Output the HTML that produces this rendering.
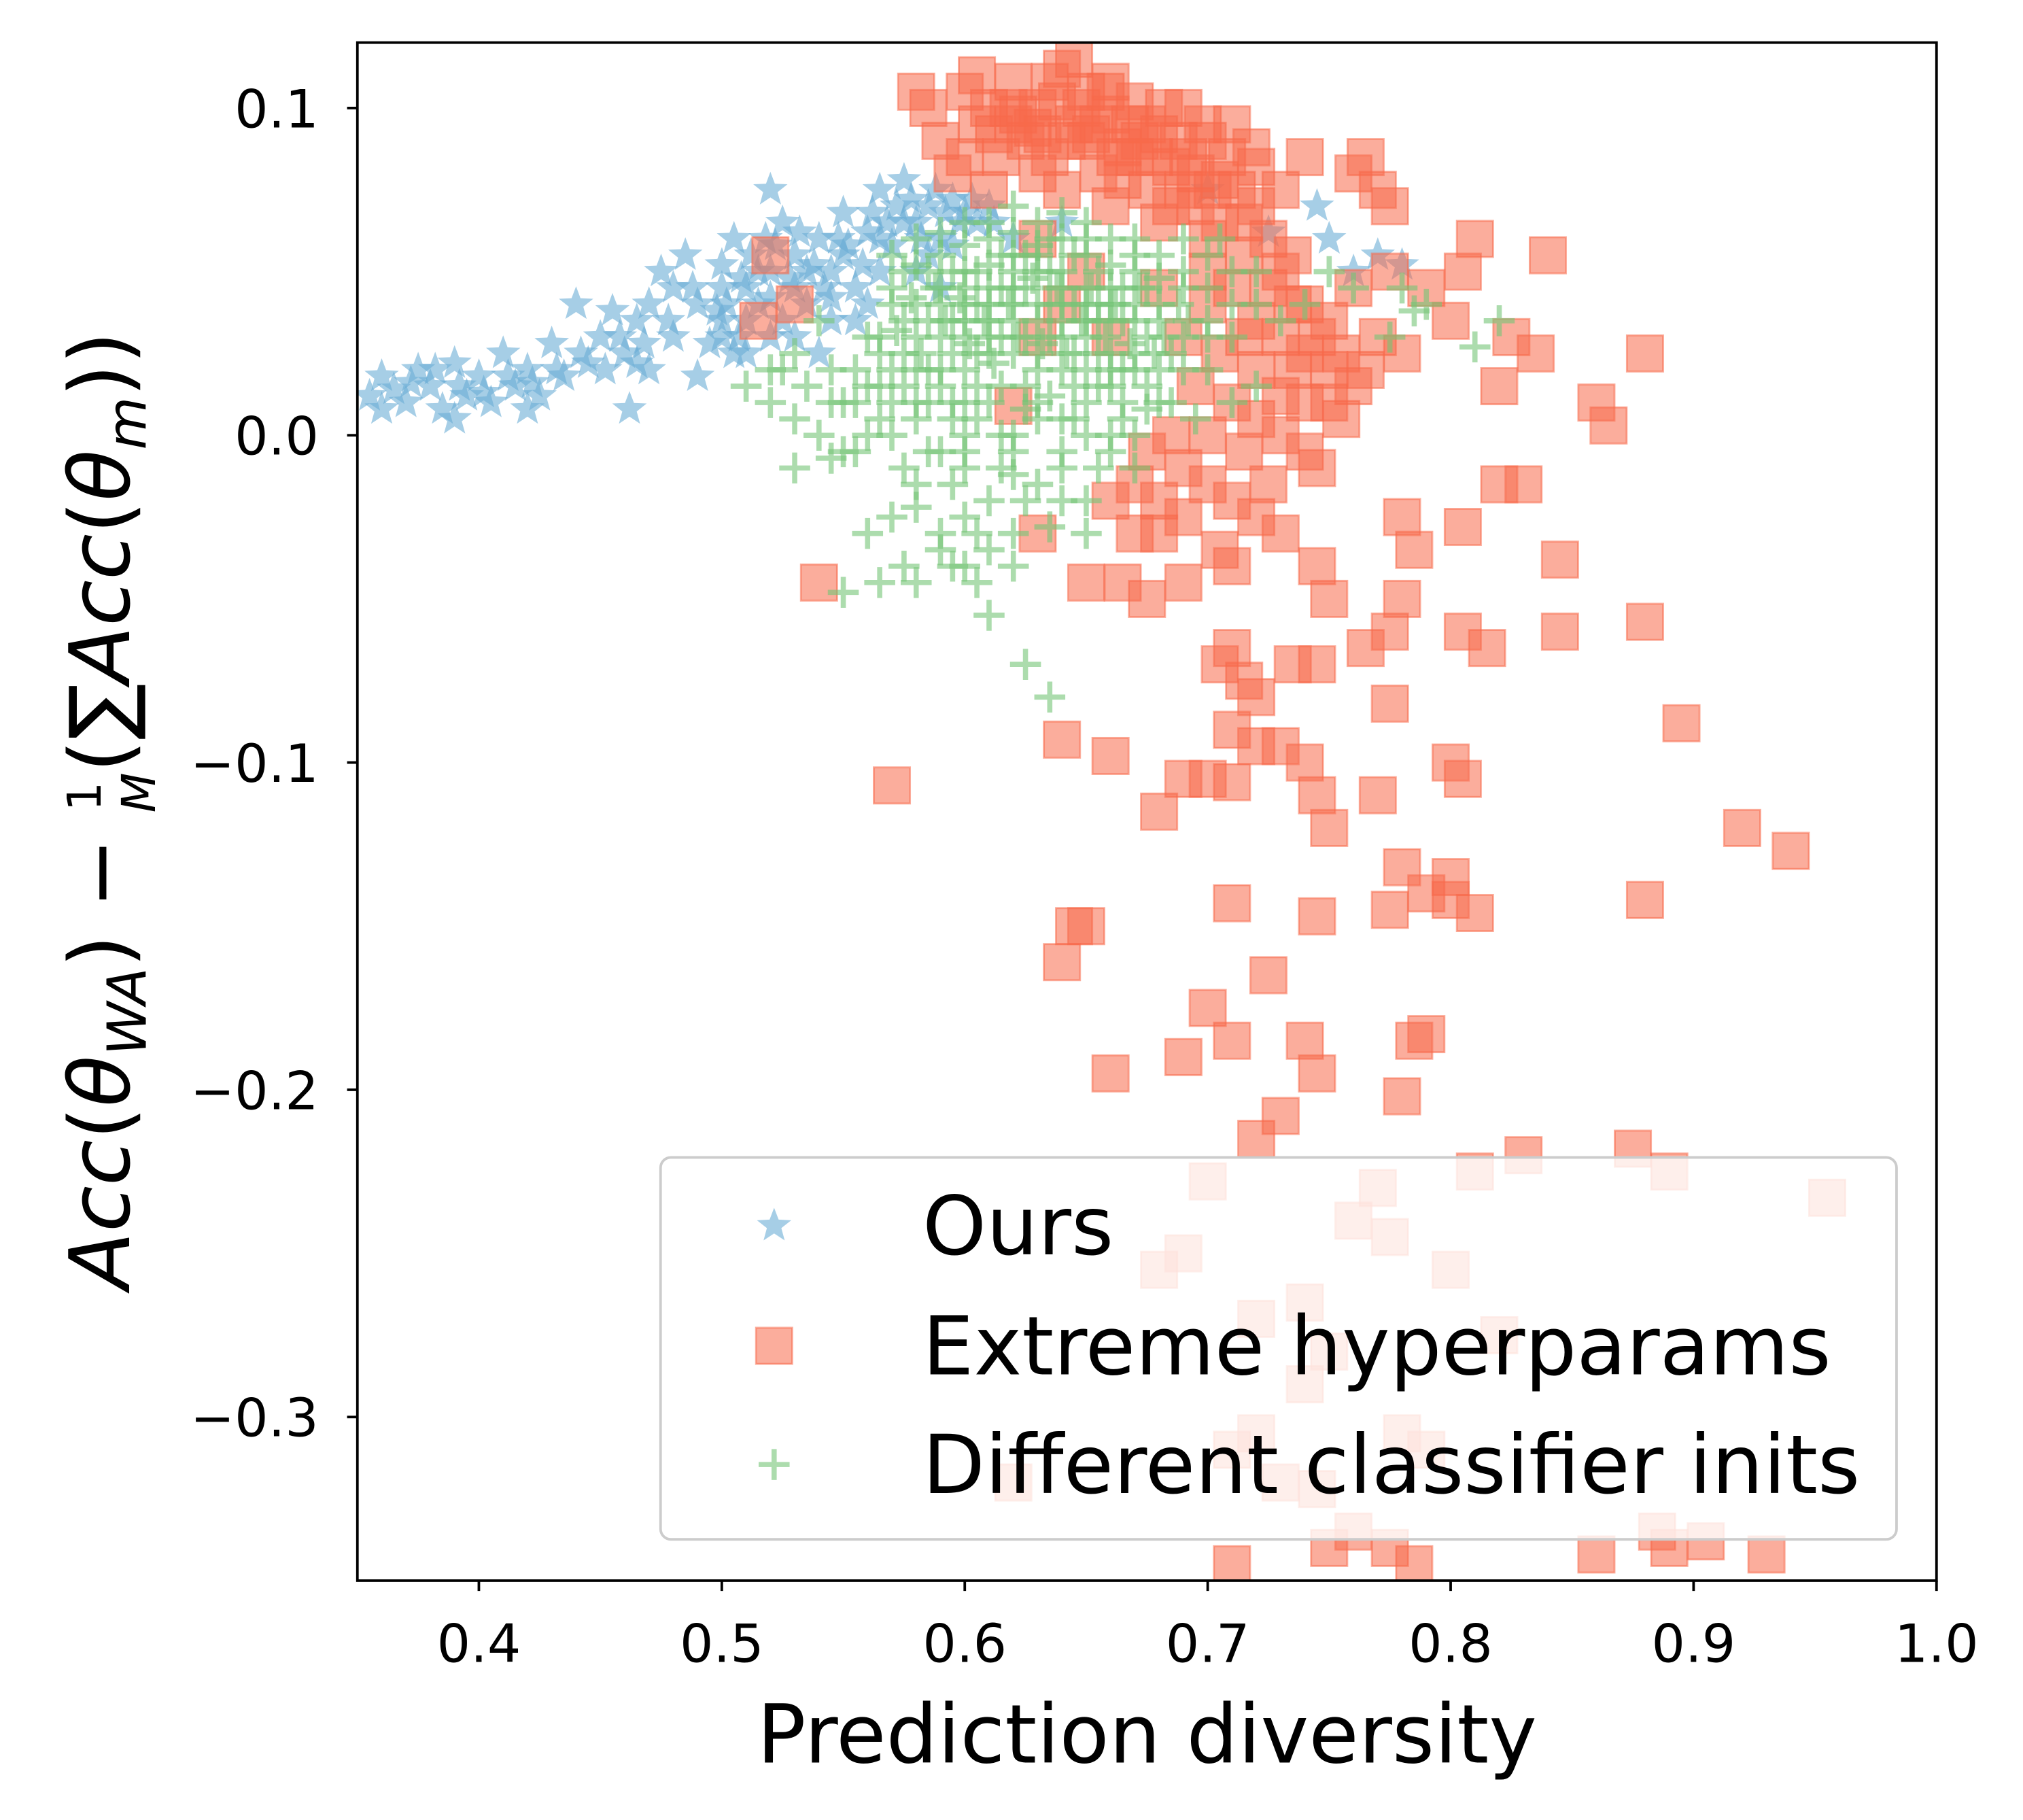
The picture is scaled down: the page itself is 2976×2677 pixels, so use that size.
<!DOCTYPE html>
<html><head><meta charset="utf-8"><style>
html,body{margin:0;padding:0;background:#fff;}
svg{display:block;font-family:"DejaVu Sans","Liberation Sans",sans-serif;}
</style></head><body>
<svg id="chart" width="2976" height="2677" viewBox="0 0 1568 1410.5" xmlns="http://www.w3.org/2000/svg" style="position:absolute;left:0;top:0">
<rect x="0" y="0" width="1568" height="1410.5" fill="#fff"/>
<g id="marks"></g>
<g id="legend"></g>
<g id="axes"></g>
<text transform="translate(100,628) rotate(-90)" text-anchor="middle" font-size="65" fill="#000"><tspan font-style="italic">Acc</tspan>(<tspan font-style="italic">θ</tspan><tspan font-style="italic" font-size="42" dy="13">WA</tspan><tspan dy="-13">) − </tspan><tspan font-size="36" dy="-22">1</tspan><tspan font-size="36" font-style="italic" dx="-24" dy="42">M</tspan><tspan dy="-20">(∑</tspan><tspan font-style="italic">Acc</tspan>(<tspan font-style="italic">θ</tspan><tspan font-style="italic" font-size="42" dy="13">m</tspan><tspan dy="-13">))</tspan></text>
</svg>
<script>
const xTicks = [0.4,0.5,0.6,0.7,0.8,0.9,1.0];
const xTickLabels = ["0.4","0.5","0.6","0.7","0.8","0.9","1.0"];
const yTicks = [0.1,0.0,-0.1,-0.2,-0.3];
const yTickLabels = ["0.1","0.0","\u22120.1","\u22120.2","\u22120.3"];
const seriesNames = ["Ours","Extreme hyperparams","Different classifier inits"];
const oursPts = [[0.355,0.012],[0.36,0.018],[0.37,0.01],[0.375,0.02],[0.38,0.015],[0.385,0.008],[0.39,0.022],[0.395,0.012],[0.40,0.018],[0.405,0.01],[0.41,0.025],[0.415,0.015],[0.42,0.02],[0.425,0.012],[0.43,0.028],[0.435,0.018],[0.44,0.04],[0.445,0.022],[0.45,0.03],[0.455,0.038],[0.46,0.025],[0.462,0.008],[0.465,0.035],[0.47,0.02],[0.475,0.05],[0.48,0.03],[0.485,0.055],[0.49,0.04],[0.495,0.028],[0.50,0.045],[0.505,0.06],[0.51,0.035],[0.515,0.05],[0.52,0.042],[0.525,0.065],[0.53,0.055],[0.535,0.04],[0.54,0.06],[0.545,0.05],[0.55,0.068],[0.555,0.045],[0.56,0.062],[0.565,0.075],[0.57,0.058],[0.575,0.078],[0.58,0.065],[0.585,0.07],[0.59,0.06],[0.595,0.072],[0.60,0.068],[0.605,0.065],[0.61,0.07],[0.52,0.075],[0.50,0.052],[0.53,0.03],[0.545,0.035],[0.565,0.05],[0.59,0.045],[0.62,0.06],[0.64,0.065],[0.70,0.075],[0.745,0.07],[0.75,0.06],[0.76,0.05],[0.77,0.055],[0.78,0.052],[0.725,0.062],[0.49,0.018],[0.51,0.025],[0.54,0.025],[0.36,0.008],[0.39,0.005],[0.42,0.008],[0.5,0.03],[0.52,0.05],[0.56,0.04],[0.58,0.05],[0.55,0.055],[0.365,0.014],[0.372,0.016],[0.382,0.02],[0.392,0.015],[0.402,0.013],[0.412,0.018],[0.422,0.016],[0.432,0.02],[0.442,0.025],[0.452,0.02],[0.458,0.03],[0.468,0.028],[0.478,0.035],[0.488,0.045],[0.498,0.038],[0.502,0.04],[0.508,0.048],[0.512,0.055],[0.518,0.06],[0.522,0.058],[0.528,0.048],[0.532,0.062],[0.538,0.052],[0.542,0.045],[0.548,0.06],[0.552,0.058],[0.558,0.052],[0.562,0.068],[0.568,0.065],[0.572,0.07],[0.578,0.072],[0.582,0.06],[0.588,0.075],[0.592,0.068],[0.598,0.065],[0.603,0.072],[0.612,0.065],[0.507,0.03],[0.515,0.04],[0.525,0.035],[0.535,0.05],[0.545,0.042],[0.555,0.035],[0.565,0.06],[0.575,0.065],[0.585,0.055],[0.595,0.058],[0.51,0.045],[0.5,0.035],[0.505,0.025],[0.52,0.03],[0.53,0.045],[0.47,0.04],[0.48,0.045],[0.465,0.022]];
const extremePts = [[0.60,0.105],[0.605,0.095],[0.61,0.1],[0.62,0.108],[0.625,0.09],[0.63,0.1],[0.635,0.085],[0.64,0.112],[0.645,0.095],[0.65,0.105],[0.655,0.08],[0.66,0.098],[0.665,0.088],[0.67,0.102],[0.675,0.075],[0.68,0.092],[0.685,0.082],[0.69,0.1],[0.695,0.07],[0.70,0.09],[0.705,0.078],[0.71,0.095],[0.715,0.065],[0.72,0.082],[0.58,0.105],[0.59,0.09],[0.595,0.08],[0.615,0.085],[0.64,0.075],[0.66,0.07],[0.68,0.065],[0.70,0.06],[0.72,0.07],[0.73,0.075],[0.74,0.085],[0.76,0.08],[0.765,0.085],[0.77,0.075],[0.775,0.07],[0.73,0.05],[0.74,0.04],[0.75,0.035],[0.76,0.045],[0.77,0.03],[0.78,0.025],[0.775,0.05],[0.79,0.045],[0.80,0.035],[0.805,0.05],[0.81,0.06],[0.84,0.055],[0.825,0.03],[0.835,0.025],[0.82,0.015],[0.88,0.025],[0.86,0.01],[0.865,0.003],[0.755,0.005],[0.74,0.01],[0.72,0.02],[0.71,0.01],[0.70,0.0],[0.69,-0.01],[0.68,-0.02],[0.67,-0.015],[0.66,-0.02],[0.715,-0.005],[0.725,-0.015],[0.73,-0.03],[0.705,-0.035],[0.71,-0.04],[0.69,-0.045],[0.675,-0.05],[0.665,-0.045],[0.65,-0.045],[0.63,-0.03],[0.54,-0.045],[0.745,-0.04],[0.75,-0.05],[0.765,-0.065],[0.775,-0.06],[0.78,-0.05],[0.78,-0.025],[0.785,-0.035],[0.805,-0.028],[0.82,-0.015],[0.83,-0.015],[0.845,-0.038],[0.845,-0.06],[0.805,-0.06],[0.815,-0.065],[0.88,-0.057],[0.895,-0.088],[0.71,-0.065],[0.715,-0.075],[0.72,-0.08],[0.705,-0.07],[0.71,-0.09],[0.72,-0.095],[0.73,-0.095],[0.735,-0.07],[0.745,-0.07],[0.775,-0.082],[0.74,-0.1],[0.745,-0.11],[0.75,-0.12],[0.77,-0.11],[0.64,-0.093],[0.66,-0.098],[0.69,-0.105],[0.70,-0.105],[0.68,-0.115],[0.71,-0.106],[0.57,-0.107],[0.80,-0.1],[0.805,-0.105],[0.775,-0.145],[0.78,-0.132],[0.79,-0.14],[0.80,-0.135],[0.80,-0.142],[0.81,-0.146],[0.745,-0.147],[0.71,-0.143],[0.65,-0.15],[0.645,-0.15],[0.64,-0.161],[0.725,-0.165],[0.70,-0.175],[0.71,-0.185],[0.74,-0.185],[0.745,-0.195],[0.785,-0.185],[0.79,-0.183],[0.66,-0.195],[0.69,-0.19],[0.73,-0.208],[0.72,-0.215],[0.78,-0.202],[0.88,-0.142],[0.92,-0.12],[0.94,-0.127],[0.83,-0.22],[0.875,-0.218],[0.70,-0.228],[0.76,-0.24],[0.77,-0.23],[0.775,-0.245],[0.8,-0.255],[0.81,-0.225],[0.89,-0.225],[0.955,-0.233],[0.69,-0.25],[0.68,-0.255],[0.72,-0.27],[0.74,-0.265],[0.75,-0.28],[0.74,-0.29],[0.82,-0.275],[0.71,-0.31],[0.72,-0.305],[0.73,-0.32],[0.745,-0.322],[0.78,-0.305],[0.79,-0.31],[0.62,-0.32],[0.76,-0.335],[0.775,-0.34],[0.71,-0.345],[0.75,-0.34],[0.785,-0.345],[0.86,-0.342],[0.89,-0.34],[0.885,-0.335],[0.93,-0.342],[0.905,-0.338],[0.52,0.055],[0.515,0.035],[0.53,0.04],[0.63,0.06],[0.64,0.04],[0.65,0.05],[0.62,0.009],[0.63,0.03],[0.69,0.03],[0.70,0.04],[0.68,0.045],[0.66,0.03],[0.735,0.02],[0.75,0.01],[0.73,0.0],[0.745,-0.01],[0.62,0.095],[0.63,0.08],[0.65,0.09],[0.67,0.085],[0.69,0.075],[0.61,0.075],[0.6,0.085],[0.612,0.092],[0.618,0.1],[0.628,0.094],[0.638,0.102],[0.642,0.09],[0.648,0.1],[0.652,0.092],[0.658,0.105],[0.662,0.085],[0.668,0.095],[0.672,0.09],[0.678,0.085],[0.682,0.1],[0.688,0.09],[0.692,0.085],[0.698,0.095],[0.702,0.075],[0.708,0.085],[0.712,0.075],[0.718,0.088],[0.632,0.092],[0.622,0.098],[0.655,0.095],[0.665,0.078],[0.675,0.095],[0.685,0.07],[0.695,0.08],[0.705,0.065],[0.715,0.055],[0.725,0.06],[0.735,0.055],[0.7,0.05],[0.71,0.045],[0.72,0.035],[0.73,0.03],[0.74,0.025],[0.75,0.02],[0.76,0.015],[0.725,0.045],[0.735,0.04],[0.745,0.03],[0.755,0.025],[0.765,0.02],[0.705,0.025],[0.715,0.03],[0.72,0.005],[0.73,0.012],[0.695,0.015],[0.685,0.0],[0.675,-0.005],[0.7,-0.015],[0.69,-0.025],[0.68,-0.03],[0.67,-0.03],[0.71,-0.02],[0.72,-0.025],[0.74,-0.005],[0.605,0.11],[0.635,0.108],[0.645,0.115],[0.66,0.108],[0.585,0.1]];
const initsPts = [[0.52,0.01],[0.525,0.02],[0.53,0.005],[0.535,0.015],[0.54,0.0],[0.545,0.02],[0.55,0.01],[0.555,-0.005],[0.56,0.03],[0.565,0.015],[0.57,0.0],[0.575,0.025],[0.58,0.04],[0.585,0.01],[0.59,0.03],[0.595,0.05],[0.6,0.02],[0.605,0.04],[0.61,0.03],[0.615,0.055],[0.62,0.025],[0.625,0.045],[0.63,0.035],[0.635,0.06],[0.64,0.02],[0.645,0.04],[0.65,0.03],[0.655,0.05],[0.66,0.015],[0.665,0.035],[0.67,0.025],[0.675,0.045],[0.68,0.02],[0.685,0.01],[0.69,0.03],[0.7,0.045],[0.705,0.06],[0.71,0.05],[0.72,0.04],[0.73,0.035],[0.74,0.04],[0.75,0.05],[0.78,0.045],[0.785,0.038],[0.775,0.03],[0.81,0.027],[0.55,-0.005],[0.545,-0.007],[0.56,0.0],[0.575,-0.01],[0.58,-0.015],[0.59,-0.005],[0.6,-0.01],[0.61,-0.02],[0.62,-0.005],[0.63,-0.015],[0.64,-0.01],[0.65,-0.02],[0.66,-0.005],[0.67,0.0],[0.58,-0.022],[0.59,-0.03],[0.6,-0.025],[0.61,-0.035],[0.62,-0.03],[0.635,-0.028],[0.6,-0.04],[0.605,-0.045],[0.61,-0.055],[0.595,-0.04],[0.575,-0.04],[0.565,-0.045],[0.55,-0.048],[0.56,-0.03],[0.57,-0.025],[0.625,-0.07],[0.635,-0.08],[0.52,0.02],[0.51,0.015],[0.53,0.025],[0.53,-0.01],[0.54,0.035],[0.57,0.055],[0.58,0.06],[0.6,0.065],[0.62,0.07],[0.64,0.068],[0.66,0.06],[0.68,0.055],[0.7,0.02],[0.71,0.01],[0.72,0.015],[0.59,0.045],[0.61,0.045],[0.63,0.05],[0.65,0.045],[0.67,0.04],[0.69,0.045],[0.6,0.035],[0.62,0.04],[0.64,0.03],[0.66,0.045],[0.58,0.03],[0.6,0.05],[0.62,0.055],[0.64,0.05],[0.6,0.01],[0.62,0.0],[0.64,0.005],[0.66,0.02],[0.68,0.035],[0.57,0.04],[0.59,0.02],[0.61,0.01],[0.63,0.02],[0.65,0.01],[0.67,0.055],[0.61,0.06],[0.63,0.065],[0.65,0.06],[0.575,0.035],[0.595,0.01],[0.615,0.015],[0.635,0.04],[0.655,0.035],[0.675,0.015],[0.695,0.005],[0.565,0.03],[0.57,0.045],[0.575,0.05],[0.58,0.02],[0.585,0.035],[0.585,0.05],[0.59,0.04],[0.595,0.025],[0.595,0.035],[0.6,0.04],[0.6,0.03],[0.605,0.025],[0.605,0.05],[0.61,0.04],[0.61,0.035],[0.615,0.03],[0.615,0.045],[0.62,0.035],[0.62,0.05],[0.625,0.03],[0.625,0.055],[0.63,0.04],[0.63,0.025],[0.635,0.03],[0.635,0.05],[0.64,0.04],[0.64,0.035],[0.645,0.025],[0.645,0.055],[0.65,0.04],[0.65,0.035],[0.655,0.025],[0.655,0.04],[0.66,0.035],[0.66,0.025],[0.665,0.045],[0.665,0.02],[0.67,0.035],[0.675,0.03],[0.68,0.04],[0.685,0.025],[0.59,0.015],[0.605,0.015],[0.625,0.015],[0.645,0.015],[0.665,0.01],[0.58,0.005],[0.6,0.0],[0.63,0.005],[0.65,0.0],[0.67,-0.01],[0.655,-0.01],[0.615,-0.01],[0.585,-0.005],[0.565,0.005],[0.555,0.02],[0.545,0.01],[0.56,0.015],[0.57,0.02],[0.59,0.055],[0.61,0.052],[0.63,0.058],[0.65,0.065],[0.67,0.06],[0.69,0.06],[0.7,0.055],[0.69,0.02],[0.7,0.035],[0.71,0.03],[0.68,0.01],[0.605,-0.03],[0.62,-0.04],[0.59,-0.035],[0.58,-0.045],[0.595,-0.015],[0.64,-0.02],[0.65,-0.03],[0.625,-0.02],[0.76,0.045],[0.79,0.04],[0.82,0.035],[0.572,0.032],[0.578,0.042],[0.582,0.025],[0.588,0.045],[0.592,0.035],[0.598,0.042],[0.602,0.028],[0.608,0.035],[0.612,0.022],[0.618,0.04],[0.622,0.03],[0.628,0.048],[0.632,0.028],[0.638,0.045],[0.642,0.025],[0.648,0.035],[0.652,0.045],[0.658,0.03],[0.662,0.04],[0.668,0.028],[0.672,0.045],[0.678,0.025],[0.682,0.03],[0.688,0.04],[0.692,0.035],[0.575,0.015],[0.585,0.02],[0.595,0.005],[0.605,0.005],[0.615,0.0],[0.625,0.008],[0.635,0.012],[0.645,0.005],[0.655,0.015],[0.665,0.005],[0.675,0.008],[0.58,0.052],[0.59,0.062],[0.6,0.058],[0.61,0.065],[0.62,0.062],[0.63,0.055],[0.64,0.06],[0.65,0.055],[0.66,0.052],[0.67,0.05],[0.68,0.048],[0.69,0.05],[0.6,0.045],[0.62,0.045],[0.64,0.045],[0.66,0.04],[0.61,0.025],[0.63,0.01],[0.65,0.02],[0.67,0.02],[0.555,0.01],[0.565,0.025],[0.57,0.01],[0.58,0.01],[0.6,-0.005],[0.62,-0.012],[0.64,-0.005],[0.66,0.0],[0.7,0.03],[0.71,0.04],[0.72,0.05]];

const NS = "http://www.w3.org/2000/svg";
const L = 277, R = 1501, T = 33, B = 1225;
const xMin = 0.35, xMax = 1.0, yMin = -0.35, yMax = 0.12;
function X(v){ return L + (v - xMin) / (xMax - xMin) * (R - L); }
function Y(v){ return B - (v - yMin) / (yMax - yMin) * (B - T); }
function mk(tag, attrs, parent){ const e = document.createElementNS(NS, tag); for (const k in attrs) e.setAttribute(k, attrs[k]); parent.appendChild(e); return e; }
function starPts(cx, cy, r){ let s = []; for (let i = 0; i < 10; i++){ const a = -Math.PI/2 + i*Math.PI/5; const rr = i%2 ? r*0.42 : r; s.push((cx + rr*Math.cos(a)).toFixed(1) + "," + (cy + rr*Math.sin(a)).toFixed(1)); } return s.join(" "); }
const BLUE = "#6baed6", RED = "#f8694a", GREEN = "#74c476";
function drawStar(g, cx, cy){ return mk("polygon", {points: starPts(cx, cy, 14), fill: BLUE, "fill-opacity": 0.6}, g); }
function drawSquare(g, cx, cy){ return mk("rect", {x: cx-14, y: cy-14, width: 28, height: 28, fill: RED, "fill-opacity": 0.55, stroke: RED, "stroke-opacity": 0.55, "stroke-width": 1.5}, g); }
function drawPlus(g, cx, cy){ return mk("path", {d: `M${cx-12},${cy}H${cx+12}M${cx},${cy-12}V${cy+12}`, stroke: GREEN, "stroke-opacity": 0.6, "stroke-width": 4, fill: "none"}, g); }

const marks = document.getElementById("marks");
const clip = mk("clipPath", {id: "pc"}, marks);
mk("rect", {x: L, y: T, width: R-L, height: B-T}, clip);
const inner = mk("g", {"clip-path": "url(#pc)"}, marks);
const gBlue = mk("g", {}, inner);


oursPts.forEach(p => {
  const el = drawStar(gBlue, X(p[0]), Y(p[1]));
  
  
});
const gRed = mk("g", {}, inner);


extremePts.forEach(p => {
  const el = drawSquare(gRed, X(p[0]), Y(p[1]));
  
  
});
const gGreen = mk("g", {}, inner);


initsPts.forEach(p => {
  const el = drawPlus(gGreen, X(p[0]), Y(p[1]));
  
  
});

const lg = document.getElementById("legend");
const box = mk("rect", {x: 512, y: 897, width: 958, height: 296, rx: 8, fill: "#fff", "fill-opacity": 0.8, stroke: "#ccc", "stroke-width": 2}, lg);


const ly = [950, 1043, 1135];
const drawers = [drawStar, drawSquare, drawPlus];
seriesNames.forEach((n, i) => {
  const mkEl = drawers[i](lg, 600, ly[i]);
  
  
  const t = mk("text", {x: 715, y: ly[i] + 22, "font-size": 63, fill: "#000"}, lg);
  t.textContent = n;
  
  
});

const ax = document.getElementById("axes");
const frame = mk("rect", {x: L, y: T, width: R-L, height: B-T, fill: "none", stroke: "#000", "stroke-width": 2}, ax);


xTicks.forEach((v, i) => {
  mk("line", {x1: X(v), x2: X(v), y1: B, y2: B+8, stroke: "#000", "stroke-width": 2}, ax);
  const t = mk("text", {x: X(v), y: B+63, "font-size": 41, "text-anchor": "middle", fill: "#000"}, ax);
  t.textContent = xTickLabels[i];
  
  
});
yTicks.forEach((v, i) => {
  mk("line", {x1: L-8, x2: L, y1: Y(v), y2: Y(v), stroke: "#000", "stroke-width": 2}, ax);
  const t = mk("text", {x: L-30, y: Y(v)+15, "font-size": 41, "text-anchor": "end", fill: "#000"}, ax);
  t.textContent = yTickLabels[i];
  
  
});
const xt = mk("text", {x: 889, y: 1366, "font-size": 63, "text-anchor": "middle", fill: "#000"}, ax);
xt.textContent = "Prediction diversity";


</script>
</body></html>
